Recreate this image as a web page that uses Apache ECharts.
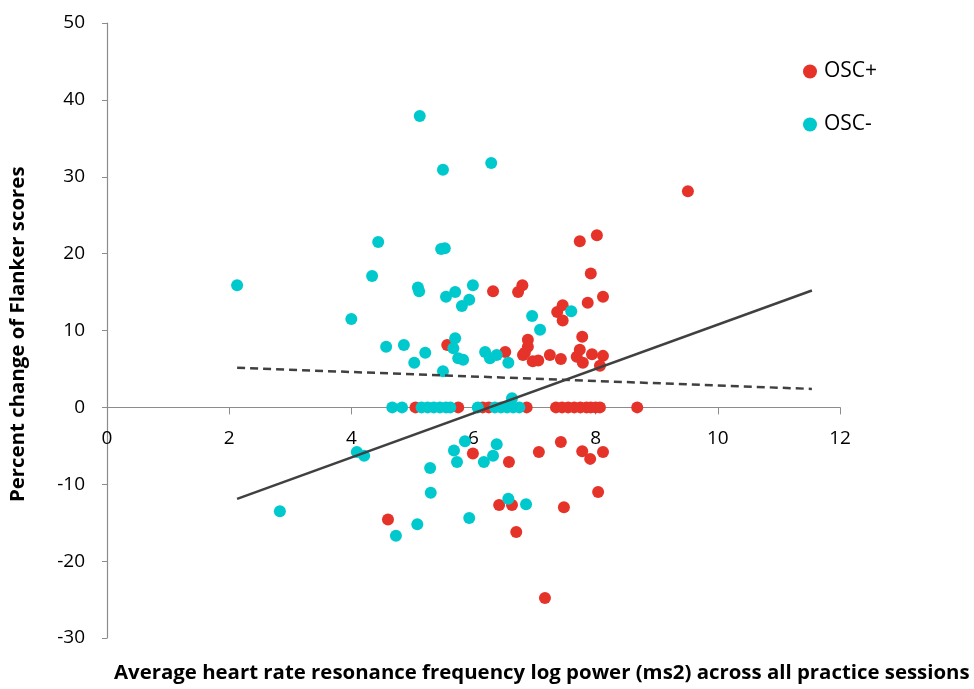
<!DOCTYPE html>
<html>
<head>
<meta charset="utf-8">
<script src="https://cdn.jsdelivr.net/npm/echarts@6/dist/echarts.min.js"></script>
<style>
html,body{margin:0;padding:0;background:#fff;}
#c{width:974px;height:689px;}
</style>
</head>
<body>
<div id="c"></div>
<script>
// OSC+ points [x, y]
const oscPlus = [
  [9.51, 28.1], [8.02, 22.4], [7.74, 21.6], [7.92, 17.4], [8.12, 14.4], [7.87, 13.6],
  [6.32, 15.1], [6.80, 15.9], [6.73, 15.0], [7.37, 12.4], [7.46, 13.3], [7.46, 11.3],
  [5.57, 8.1], [6.89, 8.8], [6.89, 7.9], [6.81, 6.8], [6.84, 7.1], [6.97, 6.0], [7.06, 6.1],
  [6.52, 7.2], [7.25, 6.8], [7.43, 6.3], [7.78, 9.2], [7.69, 6.6], [7.74, 7.5], [7.79, 5.8],
  [7.94, 6.9], [8.12, 6.7], [8.07, 5.4],
  [5.05, 0], [5.75, 0], [6.15, 0], [6.25, 0], [6.87, 0], [7.35, 0], [7.45, 0], [7.55, 0],
  [7.65, 0], [7.75, 0], [7.85, 0], [7.92, 0], [8.00, 0], [8.07, 0], [8.68, 0],
  [4.60, -14.6], [5.99, -6.0], [6.58, -7.1], [7.07, -5.8], [7.43, -4.5], [7.78, -5.7],
  [7.91, -6.7], [8.12, -5.8], [8.04, -11.0], [6.42, -12.7], [6.63, -12.7], [7.48, -13.0],
  [6.70, -16.2], [7.17, -24.8]
];
// OSC- points [x, y]
const oscMinus = [
  [2.13, 15.9], [2.83, -13.5], [5.12, 37.9], [6.29, 31.8], [5.50, 30.9], [4.44, 21.5],
  [5.47, 20.6], [5.53, 20.7], [4.34, 17.1], [5.09, 15.6], [5.11, 15.1], [5.55, 14.4],
  [5.70, 15.0], [5.99, 15.9], [5.93, 14.0], [5.81, 13.2], [4.00, 11.5], [4.57, 7.9],
  [4.86, 8.1], [5.21, 7.1], [5.03, 5.8], [5.70, 9.0], [5.67, 7.7], [5.75, 6.4], [5.83, 6.2],
  [5.50, 4.7], [6.19, 7.2], [6.27, 6.4], [6.38, 6.8], [6.57, 5.8], [6.96, 11.9], [7.09, 10.1],
  [7.60, 12.5], [6.63, 1.2],
  [4.67, 0], [4.83, 0], [5.15, 0], [5.25, 0], [5.35, 0], [5.45, 0], [5.55, 0], [5.62, 0],
  [6.07, 0], [6.35, 0], [6.45, 0], [6.55, 0], [6.65, 0], [6.75, 0],
  [4.09, -5.8], [4.21, -6.3], [5.29, -7.9], [5.30, -11.1], [5.08, -15.2], [4.73, -16.7],
  [5.68, -5.6], [5.86, -4.4], [5.73, -7.1], [6.38, -4.8], [6.32, -6.3], [6.17, -7.1],
  [6.57, -11.9], [6.86, -12.6], [5.93, -14.4]
];
// trend lines
const trendX = [2.13, 11.54];
const trendSolidY = [-11.9, 15.2];
const trendDashedY = [5.15, 2.4];
const xTicks = [0, 2, 4, 6, 8, 10, 12];
const yTicks = [-30, -20, -10, 0, 10, 20, 30, 40, 50];

const RED = '#E5332A';
const CYAN = '#00C9CE';
const FONT = '"Open Sans", "Liberation Sans", sans-serif';

const GRID_TOP = 23, GRID_BOTTOM = 51, H = 689;
const plotH = H - GRID_TOP - GRID_BOTTOM;
const yMin = yTicks[0], yMax = yTicks[yTicks.length - 1];
// shift the x axis up so it sits on y = 0
const xAxisOffset = -plotH * (0 - yMin) / (yMax - yMin);

const chart = echarts.init(document.getElementById('c'), null, {renderer: 'canvas'});
chart.setOption({
  backgroundColor: '#fff',
  animation: false,
  grid: {left: 107, right: 134, top: GRID_TOP, bottom: GRID_BOTTOM, containLabel: false},
  xAxis: {
    type: 'value', min: xTicks[0], max: xTicks[xTicks.length - 1], interval: 2,
    position: 'bottom', offset: xAxisOffset,
    axisLine: {onZero: false, lineStyle: {color: '#8c8c8c', width: 1.2}},
    axisTick: {show: true, inside: false, length: 7, lineStyle: {color: '#8c8c8c'}},
    axisLabel: {fontSize: 19, color: '#000', fontFamily: FONT, margin: 22},
    splitLine: {show: false}
  },
  yAxis: {
    type: 'value', min: yMin, max: yMax, interval: 10,
    axisLine: {show: true, onZero: false, lineStyle: {color: '#8c8c8c', width: 1.2}},
    axisTick: {show: true, length: 5, lineStyle: {color: '#8c8c8c'}},
    axisLabel: {fontSize: 19, color: '#000', fontFamily: FONT, margin: 22},
    splitLine: {show: false}
  },
  legend: {
    orient: 'vertical', left: 798, top: 56, itemGap: 32,
    itemWidth: 14, itemHeight: 14,
    textStyle: {fontSize: 21, color: '#000', fontFamily: FONT, padding: [0, 0, 0, 2]},
    data: [{name: 'OSC+', icon: 'circle'}, {name: 'OSC-', icon: 'circle'}]
  },
  graphic: [
    {type: 'text', left: 114, top: 663,
     style: {text: 'Average heart rate resonance frequency log power (ms2) across all practice sessions',
             font: 'bold 20.4px ' + FONT, fill: '#000'}},
    {type: 'text', x: 8, y: 502, rotation: Math.PI / 2,
     style: {text: 'Percent change of Flanker scores', font: 'bold 20.4px ' + FONT, fill: '#000'}}
  ],
  series: [
    {name: 'OSC+', type: 'scatter', symbolSize: 12, itemStyle: {color: RED, opacity: 1},
     data: oscPlus, z: 2},
    {name: 'OSC-', type: 'scatter', symbolSize: 12, itemStyle: {color: CYAN, opacity: 1},
     data: oscMinus, z: 3},
    {name: 'trendSolid', type: 'line', symbol: 'none', silent: true,
     lineStyle: {color: '#404040', width: 2.5, type: 'solid'},
     data: trendX.map((x, i) => [x, trendSolidY[i]]), z: 4},
    {name: 'trendDashed', type: 'line', symbol: 'none', silent: true,
     lineStyle: {color: '#404040', width: 2.5, type: [8, 5]},
     data: trendX.map((x, i) => [x, trendDashedY[i]]), z: 4}
  ]
});
</script>
</body>
</html>
